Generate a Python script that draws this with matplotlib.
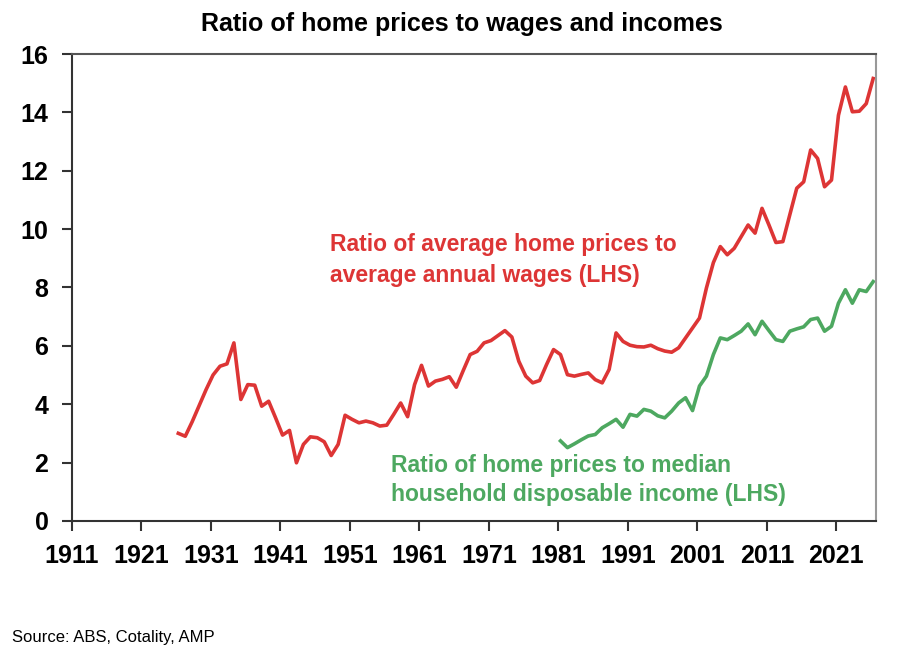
import numpy as np
import matplotlib
matplotlib.use('Agg')
import matplotlib.pyplot as plt

plt.rcParams['font.family'] = ['Liberation Sans', 'DejaVu Sans']

# Ratio of average home prices to average annual wages, 1926-2026
wage_years = np.arange(1926, 2027)
wage_ratio = [
    3.0, 2.9, 3.4, 3.95, 4.5, 5.0, 5.3, 5.38, 6.1, 4.16,
    4.67, 4.65, 3.93, 4.1, 3.53, 2.94, 3.1, 1.99, 2.62, 2.88,
    2.85, 2.71, 2.24, 2.62, 3.62, 3.48, 3.36, 3.42, 3.36, 3.25,
    3.28, 3.65, 4.04, 3.57, 4.67, 5.33, 4.62, 4.79, 4.85, 4.94,
    4.58, 5.15, 5.7, 5.81, 6.1, 6.18, 6.35, 6.52, 6.3, 5.47,
    4.96, 4.73, 4.81, 5.36, 5.87, 5.7, 5.01, 4.96, 5.02, 5.07,
    4.84, 4.73, 5.19, 6.44, 6.15, 6.02, 5.97, 5.96, 6.02, 5.9,
    5.82, 5.78, 5.93, 6.27, 6.61, 6.95, 7.98, 8.85, 9.4, 9.12,
    9.34, 9.74, 10.14, 9.86, 10.71, 10.14, 9.54, 9.57, 10.49, 11.4,
    11.62, 12.71, 12.42, 11.45, 11.68, 13.9, 14.87, 14.02, 14.04, 14.3,
    15.16,
]

# Ratio of home prices to median household disposable income, 1981-2026
income_years = np.arange(1981, 2027)
income_ratio = [
    2.74, 2.51, 2.64, 2.78, 2.91, 2.96, 3.19, 3.33, 3.48, 3.21,
    3.65, 3.59, 3.82, 3.76, 3.6, 3.53, 3.76, 4.04, 4.22, 3.78,
    4.62, 4.96, 5.7, 6.27, 6.21, 6.35, 6.5, 6.75, 6.38, 6.84,
    6.52, 6.21, 6.15, 6.5, 6.58, 6.65, 6.9, 6.95, 6.5, 6.67,
    7.46, 7.92, 7.46, 7.92, 7.86, 8.2,
]

tick_years = list(range(1911, 2022, 10))

red = '#DD3535'
green = '#4DA860'

fig = plt.figure(figsize=(9, 6.61), dpi=100)
ax = fig.add_axes([0.08, 0.212, 0.8933, 0.7063])

# annual observations sit a little after the year mark
ax.plot(wage_years + 0.3, wage_ratio, color=red, lw=2.6)
ax.plot(income_years + 0.3, income_ratio, color=green, lw=2.6)

ax.set_xlim(1911, 2026.7)
ax.set_ylim(0, 16)
ax.set_xticks(tick_years)
ax.set_yticks(range(0, 17, 2))
ax.tick_params(axis='both', direction='out', length=7, width=1.5,
               labelsize=18, pad=10, colors='#333333', labelcolor='black')
for lab in ax.get_xticklabels() + ax.get_yticklabels():
    lab.set_fontweight('bold')

ax.spines['left'].set_color('#333333')
ax.spines['bottom'].set_color('#333333')
ax.spines['top'].set_color('#555555')
ax.spines['right'].set_color('#999999')
for s in ax.spines.values():
    s.set_linewidth(1.5)

ax.text(1948.1, 8.93, 'Ratio of average home prices to\naverage annual wages (LHS)',
        color=red, fontsize=16.5, fontweight='bold', ha='left', va='center',
        linespacing=1.45)
ax.text(1956.9, 1.4, 'Ratio of home prices to median\nhousehold disposable income (LHS)',
        color=green, fontsize=16.5, fontweight='bold', ha='left', va='center',
        linespacing=1.3)

fig.text(0.513, 0.964, 'Ratio of home prices to wages and incomes',
         ha='center', va='center', fontsize=18, fontweight='bold')
fig.text(0.013, 0.036, 'Source: ABS, Cotality, AMP', ha='left', va='center',
         fontsize=12)

fig.savefig('out.png', dpi=100)
